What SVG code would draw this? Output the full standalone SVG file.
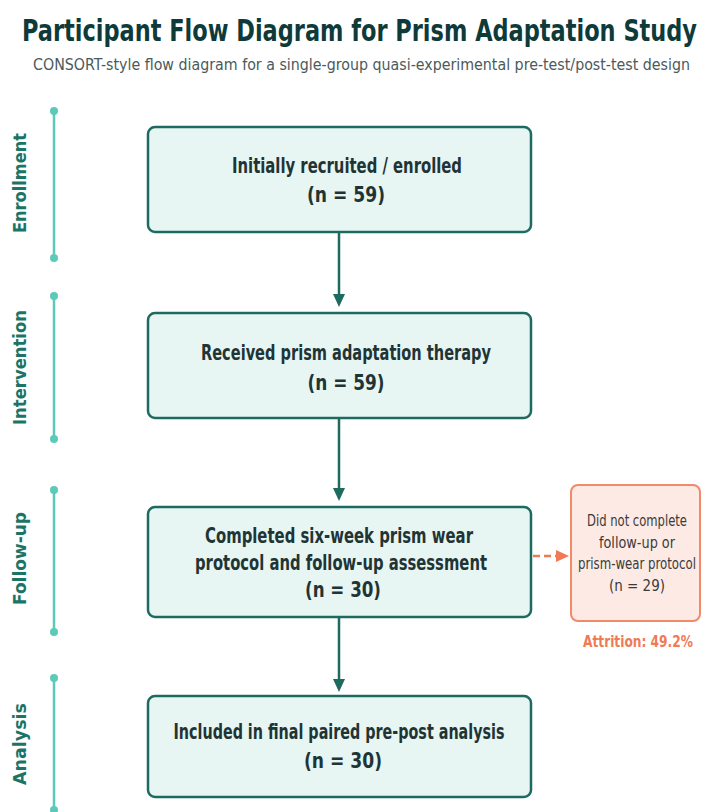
<svg xmlns="http://www.w3.org/2000/svg" width="701" height="812" viewBox="0 0 701 812">
  <style>
    .title { font-family: "DejaVu Sans Condensed", "DejaVu Sans", "Liberation Sans", sans-serif; font-weight: bold; font-size: 30px; fill: #0f3a3a; }
    .subtitle { font-family: "DejaVu Sans Condensed", "DejaVu Sans", "Liberation Sans", sans-serif; font-size: 15px; fill: #4b5a5a; }
    .phase { font-family: "DejaVu Sans", "Liberation Sans", sans-serif; font-weight: bold; font-size: 17px; fill: #1b7566; }
    .rail { stroke: #5ccab9; stroke-width: 2.5; fill: none; }
    .dot { fill: #5ccab9; }
    .box { fill: #e7f5f3; stroke: #1d6b60; stroke-width: 2.5; }
    .boxtext { font-family: "DejaVu Sans Condensed", "DejaVu Sans", "Liberation Sans", sans-serif; font-weight: bold; font-size: 22px; fill: #1f3434; text-anchor: middle; }
    .sidebox { fill: #fdeae4; stroke: #f1896b; stroke-width: 2; }
    .sidetext { font-family: "DejaVu Sans Condensed", "DejaVu Sans", "Liberation Sans", sans-serif; font-size: 16px; fill: #3a3a3a; text-anchor: middle; }
    .attr { font-family: "DejaVu Sans Condensed", "DejaVu Sans", "Liberation Sans", sans-serif; font-weight: bold; font-size: 16px; fill: #f07a55; text-anchor: middle; }
    .flow { stroke: #1d6b60; stroke-width: 2.5; fill: none; }
    .flowhead { fill: #1d6b60; }
    .drop { stroke: #f07a55; stroke-width: 2.5; stroke-dasharray: 7 4; fill: none; }
    .drophead { fill: #f07a55; }
  </style>

  <rect width="701" height="812" fill="#ffffff"/>

  <!-- Heading -->
  <text class="title" x="22" y="41" textLength="675" lengthAdjust="spacingAndGlyphs">Participant Flow Diagram for Prism Adaptation Study</text>
  <text class="subtitle" x="33" y="70" textLength="657" lengthAdjust="spacingAndGlyphs">CONSORT-style flow diagram for a single-group quasi-experimental pre-test/post-test design</text>

  <!-- Phase rails -->
  <g id="phase-enrollment">
    <line class="rail" x1="54" y1="111" x2="54" y2="258"/>
    <circle class="dot" cx="54" cy="111" r="4"/>
    <circle class="dot" cx="54" cy="258" r="4"/>
    <text class="phase" transform="translate(26,233) rotate(-90)" textLength="100" lengthAdjust="spacingAndGlyphs">Enrollment</text>
  </g>
  <g id="phase-intervention">
    <line class="rail" x1="54" y1="296" x2="54" y2="439"/>
    <circle class="dot" cx="54" cy="296" r="4"/>
    <circle class="dot" cx="54" cy="439" r="4"/>
    <text class="phase" transform="translate(26,425) rotate(-90)" textLength="115" lengthAdjust="spacingAndGlyphs">Intervention</text>
  </g>
  <g id="phase-followup">
    <line class="rail" x1="54" y1="490" x2="54" y2="632"/>
    <circle class="dot" cx="54" cy="490" r="4"/>
    <circle class="dot" cx="54" cy="632" r="4"/>
    <text class="phase" transform="translate(26,605) rotate(-90)" textLength="93" lengthAdjust="spacingAndGlyphs">Follow-up</text>
  </g>
  <g id="phase-analysis">
    <line class="rail" x1="54" y1="678" x2="54" y2="812"/>
    <circle class="dot" cx="54" cy="678" r="4"/>
    <circle class="dot" cx="54" cy="810" r="4"/>
    <text class="phase" transform="translate(26,785) rotate(-90)" textLength="82" lengthAdjust="spacingAndGlyphs">Analysis</text>
  </g>

  <!-- Connectors -->
  <g id="connectors">
    <line class="flow" x1="339" y1="233" x2="339" y2="296"/>
    <polygon class="flowhead" points="333,294 345,294 339,307"/>
    <line class="flow" x1="339" y1="419" x2="339" y2="490"/>
    <polygon class="flowhead" points="333,488 345,488 339,501"/>
    <line class="flow" x1="339" y1="618" x2="339" y2="681"/>
    <polygon class="flowhead" points="333,679 345,679 339,692"/>
    <line class="drop" x1="533" y1="556" x2="558" y2="556"/>
    <polygon class="drophead" points="556,550 556,562 569,556"/>
  </g>

  <!-- Main flow boxes -->
  <g id="node-enrolled">
    <rect class="box" x="148" y="127" width="383" height="105" rx="7"/>
    <text class="boxtext" x="347" y="173" textLength="230" lengthAdjust="spacingAndGlyphs">Initially recruited / enrolled</text>
    <text class="boxtext" x="346" y="202" textLength="78" lengthAdjust="spacingAndGlyphs">(n = 59)</text>
  </g>
  <g id="node-intervention">
    <rect class="box" x="148" y="313" width="383" height="105" rx="7"/>
    <text class="boxtext" x="346" y="360" textLength="290" lengthAdjust="spacingAndGlyphs">Received prism adaptation therapy</text>
    <text class="boxtext" x="346" y="390" textLength="77" lengthAdjust="spacingAndGlyphs">(n = 59)</text>
  </g>
  <g id="node-followup">
    <rect class="box" x="148" y="507" width="383" height="110" rx="7"/>
    <text class="boxtext" x="339" y="543" textLength="268" lengthAdjust="spacingAndGlyphs">Completed six-week prism wear</text>
    <text class="boxtext" x="341" y="570" textLength="292" lengthAdjust="spacingAndGlyphs">protocol and follow-up assessment</text>
    <text class="boxtext" x="343" y="597" textLength="76" lengthAdjust="spacingAndGlyphs">(n = 30)</text>
  </g>
  <g id="node-analysis">
    <rect class="box" x="148" y="696" width="383" height="101" rx="7"/>
    <text class="boxtext" x="339" y="739" textLength="331" lengthAdjust="spacingAndGlyphs">Included in final paired pre-post analysis</text>
    <text class="boxtext" x="343" y="768" textLength="78" lengthAdjust="spacingAndGlyphs">(n = 30)</text>
  </g>

  <!-- Exclusion box -->
  <g id="node-attrition">
    <rect class="sidebox" x="571" y="485" width="129" height="136" rx="7"/>
    <text class="sidetext" x="637" y="526" textLength="100" lengthAdjust="spacingAndGlyphs">Did not complete</text>
    <text class="sidetext" x="637" y="548" textLength="76" lengthAdjust="spacingAndGlyphs">follow-up or</text>
    <text class="sidetext" x="637" y="569" textLength="118" lengthAdjust="spacingAndGlyphs">prism-wear protocol</text>
    <text class="sidetext" x="637" y="591" textLength="56" lengthAdjust="spacingAndGlyphs">(n = 29)</text>
    <text class="attr" x="638" y="647" textLength="110" lengthAdjust="spacingAndGlyphs">Attrition: 49.2%</text>
  </g>
</svg>
